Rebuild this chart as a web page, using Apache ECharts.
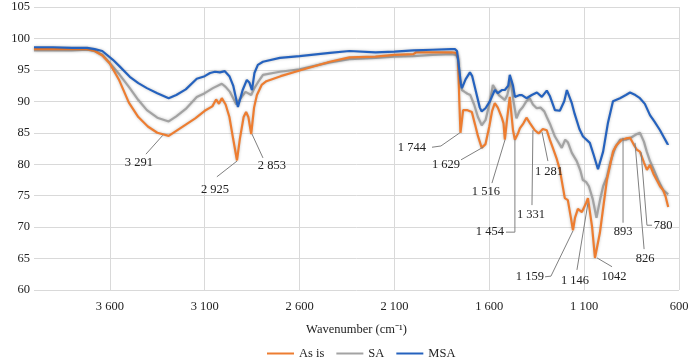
<!DOCTYPE html>
<html><head><meta charset="utf-8">
<script src="https://cdn.jsdelivr.net/npm/echarts@6/dist/echarts.min.js"></script>
<style>html,body{margin:0;padding:0;background:#fff}#c{width:700px;height:358px}</style>
</head><body><div id="c"></div>
<script>
const seriesNames = ['As is', 'SA', 'MSA'];
const seriesColors = ['#ED7D31', '#A3A3A3', '#2562BE'];

const xTickValues = [600, 1100, 1600, 2100, 2600, 3100, 3600];
const xTickLabels = ['600', '1 100', '1 600', '2 100', '2 600', '3 100', '3 600'];

const asIsData = [[4000,98.3],[3900,98.3],[3800,98.3],[3720,98.3],[3680,98.0],[3640,97.3],[3600,96.0],[3550,93.3],[3500,89.8],[3450,87.5],[3400,86.0],[3350,85.0],[3290,84.5],[3250,85.3],[3200,86.3],[3150,87.3],[3100,88.5],[3060,89.2],[3040,90.3],[3025,89.6],[3010,90.5],[2990,89.5],[2970,87.5],[2950,84.0],[2930,80.6],[2915,84.0],[2895,87.5],[2882,88.3],[2870,87.5],[2855,84.8],[2840,89.0],[2825,91.0],[2800,92.6],[2775,93.2],[2700,94.0],[2600,94.9],[2440,96.3],[2337,97.0],[2200,97.1],[2100,97.4],[2000,97.5],[1985,97.8],[1900,97.8],[1800,97.8],[1775,97.7],[1765,97.0],[1758,90.0],[1752,85.0],[1746,85.2],[1738,88.6],[1715,88.6],[1692,88.3],[1675,86.3],[1660,84.5],[1640,82.6],[1620,83.2],[1600,86.0],[1585,88.5],[1571,89.7],[1555,89.0],[1534,87.4],[1525,86.5],[1518,83.9],[1505,87.5],[1492,90.7],[1475,85.4],[1465,83.9],[1450,84.8],[1439,85.7],[1420,86.5],[1404,87.4],[1385,86.5],[1360,85.4],[1340,84.9],[1318,85.6],[1297,85.4],[1281,83.9],[1265,82.6],[1244,80.8],[1228,79.1],[1210,76.0],[1202,74.6],[1186,74.3],[1170,71.5],[1159,69.5],[1148,71.5],[1133,72.9],[1112,72.4],[1090,73.8],[1080,74.6],[1058,70.0],[1043,65.1],[1035,65.3],[1017,69.1],[1000,73.0],[980,77.5],[948,82.0],[930,83.0],[901,83.9],[880,84.1],[858,84.2],[840,83.2],[822,82.3],[806,82.0],[785,80.3],[769,79.1],[753,79.9],[735,78.5],[716,77.4],[700,76.5],[684,75.9],[670,74.8],[657,73.2]];

const saData = [[4000,98.1],[3900,98.1],[3800,98.1],[3720,98.2],[3680,98.0],[3640,97.4],[3584,95.5],[3550,94.3],[3495,92.1],[3450,90.2],[3405,88.6],[3350,87.4],[3290,86.8],[3250,87.6],[3200,88.8],[3142,90.7],[3100,91.3],[3057,92.1],[3010,92.8],[2990,92.3],[2967,91.5],[2933,89.5],[2915,90.3],[2885,91.5],[2855,91.0],[2840,92.0],[2820,93.0],[2793,94.2],[2704,94.7],[2600,95.1],[2440,96.2],[2337,96.7],[2200,96.9],[2100,97.1],[2000,97.2],[1900,97.4],[1800,97.5],[1775,97.4],[1765,96.8],[1755,93.5],[1744,91.8],[1730,91.5],[1715,91.2],[1700,91.0],[1680,89.5],[1660,87.5],[1640,86.2],[1620,87.0],[1600,89.5],[1581,92.6],[1565,91.8],[1550,91.0],[1530,90.5],[1518,90.2],[1505,91.0],[1487,93.4],[1475,90.5],[1457,87.3],[1440,88.5],[1423,89.1],[1405,90.0],[1387,90.5],[1370,89.5],[1350,88.9],[1330,89.0],[1310,88.4],[1297,87.5],[1280,86.4],[1254,84.4],[1218,82.6],[1200,83.9],[1186,83.5],[1165,81.8],[1139,80.5],[1120,79.0],[1107,77.5],[1090,77.2],[1075,76.5],[1055,74.5],[1035,71.5],[1015,74.5],[1000,76.5],[980,78.0],[960,80.5],[937,82.6],[911,83.9],[880,83.9],[850,84.3],[822,84.8],[806,85.0],[785,83.6],[770,82.0],[753,80.5],[735,79.3],[710,77.5],[684,75.9],[657,75.2]];

const msaData = [[4000,98.6],[3900,98.6],[3800,98.5],[3720,98.5],[3680,98.3],[3640,98.0],[3584,96.6],[3550,95.6],[3495,93.9],[3450,92.9],[3405,92.1],[3350,91.3],[3290,90.5],[3250,91.0],[3200,91.9],[3142,93.6],[3100,94.0],[3072,94.5],[3046,94.7],[3020,94.6],[2994,94.8],[2970,94.0],[2950,92.5],[2925,89.1],[2900,91.8],[2878,93.4],[2865,93.0],[2851,91.8],[2838,94.5],[2820,95.8],[2793,96.3],[2704,96.9],[2600,97.2],[2440,97.7],[2337,98.0],[2200,97.8],[2100,97.9],[2000,98.1],[1900,98.2],[1800,98.3],[1781,98.3],[1770,98.0],[1760,95.5],[1750,92.8],[1744,92.1],[1725,93.5],[1702,94.6],[1690,94.0],[1670,91.5],[1650,89.0],[1640,88.4],[1620,88.9],[1597,90.0],[1571,91.8],[1555,91.3],[1534,91.8],[1518,91.8],[1500,92.5],[1492,94.2],[1475,92.5],[1465,90.7],[1440,91.0],[1428,91.0],[1404,90.5],[1376,91.0],[1349,91.4],[1323,90.7],[1297,91.7],[1280,90.8],[1254,88.6],[1228,88.5],[1205,90.0],[1191,91.8],[1165,89.7],[1150,88.0],[1125,85.6],[1106,84.4],[1070,83.4],[1050,81.5],[1027,79.2],[1000,82.0],[975,86.5],[948,90.0],[911,90.5],[880,91.0],[858,91.4],[830,91.0],[806,90.5],[780,89.6],[753,87.8],[730,86.8],[700,85.4],[680,84.3],[660,83.2],[655,83.3]];

const annTexts = ['3 291','2 925','2 853','1 744','1 629','1 516','1 454','1 331','1 281','1 159','1 146','1042','893','826','780'];
const annLabelPos = [[3447,80.2],[3046,75.9],[2746,79.7],[2008,82.6],[1828,80.0],[1618,75.6],[1597,69.2],[1380,71.9],[1285,78.8],[1386,62.1],[1148,61.4],[943,62.1],[895,69.2],[779,64.9],[684,70.3]];
const annLines = [
  [[3410,81.6],[3321,84.6]],
  [[3036,78.0],[2930,80.5]],
  [[2793,81.0],[2851,84.8]],
  [[1902,82.7],[1855,82.9],[1755,85.0]],
  [[1749,80.7],[1633,82.7]],
  [[1586,77.0],[1517,83.9]],
  [[1512,69.2],[1465,69.2],[1465,83.9]],
  [[1375,73.5],[1370,85.4]],
  [[1291,80.5],[1322,85.1]],
  [[1306,62.1],[1275,62.2],[1159,69.4]],
  [[1138,63.2],[1080,73.8]],
  [[1032,65.1],[953,63.7]],
  [[895,70.7],[895,84.2]],
  [[784,66.5],[832,83.4]],
  [[742,70.3],[769,70.3],[800,81.9]]
];

const FONT = '"Liberation Serif", "Times New Roman", serif';
const chart = echarts.init(document.getElementById('c'), null, {renderer: 'canvas'});
const dataSets = [asIsData, saData, msaData];
const zs = [3, 2, 4];

const lineSeries = seriesNames.map((n, i) => ({
  name: n, type: 'line', data: dataSets[i], showSymbol: false, symbol: 'none',
  z: zs[i], smooth: false,
  lineStyle: {color: seriesColors[i], width: 2.2, shadowColor: 'rgba(0,0,0,0.25)', shadowBlur: 3},
  itemStyle: {color: seriesColors[i]}
}));

const annSeries = {
  type: 'custom', name: 'annotations', z: 10, silent: true, clip: false,
  data: annTexts.map((t, i) => [annLabelPos[i][0], annLabelPos[i][1], i]),
  encode: {x: 0, y: 1},
  renderItem: (params, api) => {
    const i = api.value(2);
    const pts = annLines[i].map(p => api.coord(p));
    const c = api.coord([api.value(0), api.value(1)]);
    return {type: 'group', children: [
      {type: 'polyline', shape: {points: pts}, style: {stroke: '#808080', lineWidth: 1, fill: null}},
      {type: 'text', x: c[0], y: c[1], style: {text: annTexts[i], font: '12.5px ' + FONT, fill: '#222', align: 'center', verticalAlign: 'middle'}}
    ]};
  }
};

chart.setOption({
  animation: false,
  backgroundColor: '#fff',
  grid: {left: 34, right: 21, top: 7, bottom: 68, containLabel: false, outerBoundsMode: 'none'},
  legend: {
    data: seriesNames, top: 342, left: 262, icon: 'rect', itemWidth: 27, itemHeight: 2,
    itemGap: 12, textStyle: {fontFamily: FONT, fontSize: 12.5, color: '#222'}
  },
  xAxis: {
    type: 'value', inverse: true, min: 600, max: 4000, interval: 500,
    name: 'Wavenumber (cm⁻¹)', nameLocation: 'middle', nameGap: 33,
    nameTextStyle: {fontFamily: FONT, fontSize: 12.5, color: '#222'},
    axisLine: {show: false}, axisTick: {show: false},
    axisLabel: {
      showMaxLabel: false, margin: 10, fontFamily: FONT, fontSize: 12.5, color: '#222',
      formatter: v => { const k = xTickValues.indexOf(v); return k >= 0 ? xTickLabels[k] : ''; }
    },
    splitLine: {show: true, showMaxLine: false, lineStyle: {color: '#d9d9d9', width: 1}}
  },
  yAxis: {
    type: 'value', min: 60, max: 105, interval: 5,
    name: 'Transmittance (%)', nameLocation: 'middle', nameGap: 23,
    nameTextStyle: {fontFamily: FONT, fontSize: 12.5, color: '#222'},
    axisLine: {show: false}, axisTick: {show: false},
    axisLabel: {margin: 4, fontFamily: FONT, fontSize: 12.5, color: '#222'},
    splitLine: {show: true, lineStyle: {color: '#d9d9d9', width: 1}}
  },
  series: [...lineSeries, annSeries]
});
</script>
</body></html>
